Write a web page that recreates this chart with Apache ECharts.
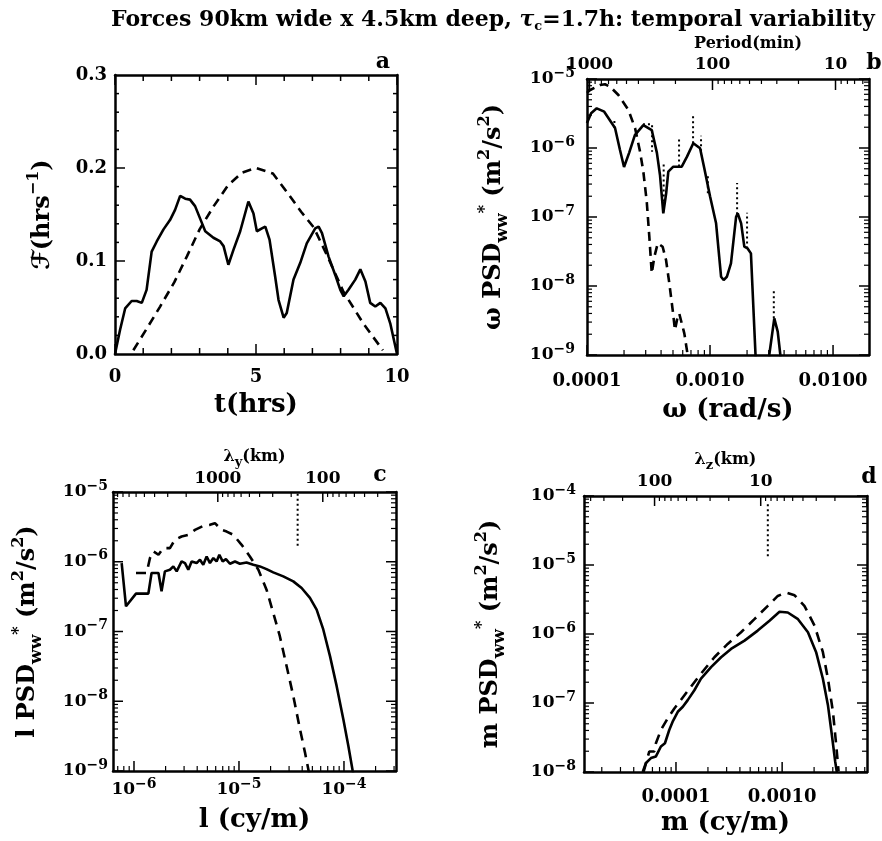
<!DOCTYPE html>
<html><head><meta charset="utf-8">
<script src="https://cdn.jsdelivr.net/npm/echarts@6/dist/echarts.min.js"></script>
<style>html,body{margin:0;padding:0;background:#fff}#wrap{position:relative;width:882px;height:841px}.pane{position:absolute;left:0;top:0;width:882px;height:841px}</style>
</head><body><div id="wrap"></div>
<script>
// ---------- Panel a : forcing time series ----------
const tA = [0,0.18,0.36,0.59,0.77,0.95,1.12,1.30,1.48,1.72,1.95,2.13,2.31,2.49,2.66,2.84,3.08,3.20,3.49,3.73,3.85,4.02,4.20,4.44,4.73,4.91,5.03,5.21,5.33,5.48,5.68,5.80,5.98,6.09,6.33,6.57,6.80,7.10,7.22,7.34,7.57,7.81,7.99,8.11,8.28,8.52,8.70,8.88,9.05,9.23,9.41,9.59,9.76,10];
const fA = [0,0.026,0.049,0.057,0.057,0.055,0.069,0.110,0.121,0.134,0.144,0.155,0.170,0.167,0.166,0.159,0.141,0.132,0.125,0.121,0.116,0.096,0.112,0.132,0.164,0.151,0.132,0.135,0.137,0.123,0.083,0.058,0.039,0.044,0.080,0.098,0.119,0.135,0.137,0.130,0.105,0.085,0.069,0.062,0.069,0.080,0.091,0.078,0.055,0.051,0.055,0.049,0.033,0];
const tAd = [0.65,1.1,1.6,2.1,2.55,3.0,3.5,4.0,4.5,5.0,5.6,6.1,6.6,7.05,7.55,8.1,8.8,9.5];
const fAd = [0.004,0.026,0.051,0.077,0.105,0.134,0.159,0.181,0.195,0.200,0.194,0.174,0.153,0.136,0.104,0.067,0.033,0.004];

// ---------- Panel b : frequency spectrum ----------
const wB = [1.0e-4,1.08e-4,1.2e-4,1.38e-4,1.69e-4,1.85e-4,2.0e-4,2.2e-4,2.45e-4,2.87e-4,3.36e-4,3.7e-4,3.92e-4,4.17e-4,4.4e-4,4.58e-4,5.03e-4,5.89e-4,6.5e-4,7.31e-4,8.3e-4,9.0e-4,1.0e-3,1.12e-3,1.23e-3,1.29e-3,1.37e-3,1.48e-3,1.63e-3,1.68e-3,1.79e-3,1.9e-3,2.02e-3,2.15e-3,2.34e-3,2.38e-3,2.98e-3,3.03e-3,3.33e-3,3.55e-3,3.73e-3,3.78e-3];
const pB = [2.3e-6,3.2e-6,3.76e-6,3.36e-6,1.95e-6,9.5e-7,5.3e-7,8.5e-7,1.54e-6,2.15e-6,1.82e-6,8.5e-7,4.06e-7,1.13e-7,2.2e-7,4.54e-7,5.36e-7,5.36e-7,7.5e-7,1.17e-6,9.9e-7,5.0e-7,2.0e-7,8.1e-8,1.36e-8,1.22e-8,1.36e-8,2.13e-8,1.01e-7,1.13e-7,8.1e-8,3.72e-8,3.5e-8,2.97e-8,1.06e-9,5e-10,5e-10,1.0e-9,3.4e-9,2.18e-9,1.0e-9,5e-10];
const wBd = [1.0e-4,1.06e-4,1.28e-4,1.4e-4,1.54e-4,1.8e-4,2.17e-4,2.46e-4,2.7e-4,2.87e-4,3.06e-4,3.21e-4,3.36e-4,3.53e-4,3.76e-4,4.12e-4,4.39e-4,4.67e-4,4.97e-4,5.19e-4,5.46e-4,5.62e-4,6.18e-4,6.58e-4,6.8e-4];
const pBd = [6.3e-6,6.93e-6,8.18e-6,8.4e-6,7.75e-6,5.86e-6,3.56e-6,1.93e-6,8.83e-7,4.54e-7,1.67e-7,5.18e-8,1.53e-8,2.66e-8,4.16e-8,3.7e-8,2.38e-8,1.09e-8,4.5e-9,2.3e-9,3.6e-9,4.0e-9,2.06e-9,1.0e-9,5e-10];
const wBdot = [[1.67e-4,1.67e-4],[2.85e-4,3.38e-4,3.38e-4],[4.2e-4,4.2e-4],[5.6e-4,5.6e-4],[7.28e-4,7.28e-4],[8.45e-4,8.45e-4],[9.6e-4,9.6e-4],[1.66e-3,1.66e-3],[2.0e-3,2.0e-3],[3.3e-3,3.3e-3]];
const pBdot = [[1.95e-6,2.6e-6],[2.2e-6,2.2e-6,8.8e-7],[1.2e-7,6.1e-7],[5.4e-7,1.44e-6],[1.17e-6,3.2e-6],[9e-7,1.5e-6],[2.2e-7,4.0e-7],[1.1e-7,3.1e-7],[3.5e-8,1.15e-7],[3.4e-9,9.3e-9]];

// ---------- Panel c : horizontal wavenumber spectrum ----------
const lC = [7.63e-7,8.39e-7,1.045e-6,1.37e-6,1.47e-6,1.71e-6,1.83e-6,1.97e-6,2.2e-6,2.37e-6,2.55e-6,2.84e-6,3.06e-6,3.29e-6,3.54e-6,3.95e-6,4.25e-6,4.57e-6,4.92e-6,5.29e-6,5.7e-6,6.12e-6,6.5e-6,6.99e-6,7.51e-6,8.2e-6,9.16e-6,1.02e-5,1.18e-5,1.37e-5,1.58e-5,1.83e-5,2.12e-5,2.64e-5,3.29e-5,3.95e-5,4.74e-5,5.49e-5,6.35e-5,7.36e-5,8.51e-5,9.86e-5,1.1e-4,1.21e-4,1.25e-4];
const pC = [9.57e-7,2.3e-7,3.49e-7,3.49e-7,6.89e-7,6.89e-7,3.77e-7,7.28e-7,7.69e-7,8.58e-7,7.28e-7,1.01e-6,9.57e-7,7.69e-7,1.01e-6,9.57e-7,1.07e-6,9.06e-7,1.19e-6,9.57e-7,1.13e-6,1.01e-6,1.26e-6,1.01e-6,1.09e-6,9.36e-7,1.01e-6,9.36e-7,9.77e-7,9.06e-7,8.58e-7,7.85e-7,7.05e-7,6.17e-7,5.23e-7,4.2e-7,3.03e-7,2.06e-7,1.07e-7,4.44e-8,1.66e-8,5.53e-9,2.3e-9,1.01e-9,8e-10];
const lCd = [1.045e-6,1.32e-6,1.42e-6,1.53e-6,1.71e-6,1.9e-6,2.2e-6,2.45e-6,2.84e-6,3.29e-6,3.81e-6,4.57e-6,5.29e-6,5.9e-6,6.84e-6,7.63e-6,8.83e-6,1.06e-5,1.27e-5,1.53e-5,1.83e-5,2.12e-5,2.45e-5,2.84e-5,3.29e-5,3.81e-5,4.25e-5,4.57e-5,4.74e-5];
const pCd = [6.89e-7,6.89e-7,1.13e-6,1.41e-6,1.26e-6,1.57e-6,1.57e-6,2.06e-6,2.3e-6,2.43e-6,2.86e-6,3.27e-6,3.38e-6,3.57e-6,2.86e-6,2.71e-6,2.43e-6,1.75e-6,1.19e-6,7.69e-7,3.98e-7,1.85e-7,8.57e-8,3.2e-8,1.19e-8,3.98e-9,1.85e-9,1.07e-9,8e-10];
const lCdot = [3.62e-5,3.62e-5];
const pCdot = [1.69e-6,1e-5];

// ---------- Panel d : vertical wavenumber spectrum ----------
const mD = [4.86e-5,5.21e-5,5.81e-5,6.47e-5,7.21e-5,7.87e-5,8.64e-5,9.3e-5,1.04e-4,1.16e-4,1.29e-4,1.49e-4,1.72e-4,2.14e-4,2.66e-4,3.3e-4,4.42e-4,5.89e-4,7.6e-4,9.45e-4,1.13e-3,1.41e-3,1.75e-3,2.09e-3,2.42e-3,2.7e-3,2.94e-3,3.16e-3,3.28e-3];
const pD = [1e-8,1.35e-8,1.59e-8,1.68e-8,2.34e-8,2.61e-8,4.06e-8,5.36e-8,7.46e-8,8.81e-8,1.1e-7,1.53e-7,2.25e-7,3.31e-7,4.61e-7,6.08e-7,8.02e-7,1.12e-6,1.56e-6,2.1e-6,2.05e-6,1.64e-6,1.06e-6,5.45e-7,2.25e-7,9.3e-8,3.44e-8,1.42e-8,9.7e-9];
const mDd = [4.95e-5,5.6e-5,6.25e-5,6.47e-5,7.21e-5,8.34e-5,9.65e-5,1.11e-4,1.34e-4,1.72e-4,2.3e-4,3.07e-4,4.1e-4,5.48e-4,7.33e-4,9.1e-4,1.09e-3,1.31e-3,1.62e-3,2.02e-3,2.42e-3,2.7e-3,3.01e-3,3.23e-3,3.4e-3];
const pDd = [1e-8,1.98e-8,1.98e-8,2.61e-8,4.06e-8,5.98e-8,8.34e-8,1.1e-7,1.62e-7,2.66e-7,4.61e-7,7.18e-7,1.06e-6,1.64e-6,2.56e-6,3.56e-6,3.98e-6,3.64e-6,2.56e-6,1.32e-6,5.45e-7,2.25e-7,7.46e-8,2.47e-8,1.02e-8];
const mDdot = [7.33e-4,7.33e-4];
const pDdot = [1.34e-5,8.3e-5];

// axis ranges and top-axis tick labels
const aX = [0, 10], aY = [0, 0.3];
const bX = [1e-4, 0.0196], cX = [6.31e-7, 3.13e-4], dX = [1.36e-5, 6.3e-3];
const bY = [1e-9, 1e-5], cY = [1e-9, 1e-5], dY = [1e-8, 1e-4];
const topB = [1000, 100, 10], topC = [1000, 100], topD = [100, 10];
const TWO_PI = 2 * Math.PI;

// ---------- helpers ----------
const SERIF = "'DejaVu Serif', 'DejaVu Sans', serif";
const L = Math.log10;
const zip = (xs, ys) => xs.map((x, i) => [x, ys[i]]);
const zipLX = (xs, ys) => xs.map((x, i) => [L(x), ys[i]]); // x drawn on a value axis in log10 units
const isPow10 = v => { const l = L(v); return Math.abs(l - Math.round(l)) < 1e-6; };
const expStr = e => '{b|10}{e|' + (e < 0 ? '\u2212' : '') + Math.abs(e) + '}';
const expFmt = v => isPow10(v) ? expStr(Math.round(L(v))) : '';
const majorsIn = (lo, hi) => { const r = []; for (let e = Math.ceil(L(lo) - 1e-9); e <= Math.floor(L(hi) + 1e-9); e++) r.push(Math.pow(10, e)); return r; };
const minorsIn = (lo, hi) => { const r = []; for (let e = Math.floor(L(lo)) - 1; e <= Math.ceil(L(hi)); e++) for (let k = 2; k <= 9; k++) { const v = k * Math.pow(10, e); if (v > lo * 1.0001 && v < hi * 0.9999) r.push(v); } return r; };
const txt = (size, extra) => Object.assign({ fontFamily: SERIF, fontWeight: 'bold', fontSize: size, color: '#000' }, extra || {});
const expRich = { b: txt(17, { lineHeight: 26 }), e: txt(14, { lineHeight: 14, verticalAlign: 'top' }) };
const nameRich = {
  n: txt(24, { lineHeight: 34 }),
  sub: txt(17, { lineHeight: 17, verticalAlign: 'bottom' }),
  sup: txt(16, { lineHeight: 16, verticalAlign: 'top' })
};
const lamRich = { t: txt(16, { lineHeight: 24 }), s: txt(13, { lineHeight: 13, verticalAlign: 'bottom' }) };
const psdName = p => '{n|' + p + ' PSD}{sub|ww}{sup|*}{n| (m}{sup|2}{n|/s}{sup|2}{n|)}';
const perOfW = w => TWO_PI / w / 60, wOfPer = p => TWO_PI / (p * 60);
const lamOfK = k => TWO_PI / k / 1000, kOfLam = lam => TWO_PI / (lam * 1000);

function ax(o) {
  const a = {
    type: o.type, gridIndex: 0, position: o.pos, min: o.min, max: o.max,
    axisLine: { show: true, onZero: false, lineStyle: { color: '#000', width: 2.5 } },
    axisTick: { show: false }, minorTick: { show: false },
    splitLine: { show: false },
    axisLabel: o.label ? Object.assign(txt(18, { margin: 8, rich: expRich }), o.label) : { show: false }
  };
  if (o.label && o.labelValues) a.axisLabel.customValues = o.labelValues;
  if (o.interval) a.interval = o.interval;
  if (o.name) {
    a.name = o.name; a.nameLocation = 'middle'; a.nameGap = o.nameGap;
    if (o.nameRotate) a.nameRotate = o.nameRotate;
    a.nameTextStyle = Object.assign(txt(26), o.nameStyle || {});
  }
  return a;
}
// Tick marks drawn inward through the axes' own coordinate mapping (api.coord)
function tickSeries(xTicks, yTicks, xRef, yRef) {
  return {
    type: 'custom', xAxisIndex: 0, yAxisIndex: 0, data: [[xRef, yRef]], silent: true, clip: false, z: 10,
    renderItem: (params, api) => {
      const cs = params.coordSys, kids = [];
      const seg = (x1, y1, x2, y2, w) => kids.push({ type: 'line', shape: { x1, y1, x2, y2 }, style: { stroke: '#000', lineWidth: w } });
      const yb = cs.y + cs.height, xr = cs.x + cs.width;
      xTicks.forEach(t => {
        const px = api.coord([t.v, yRef])[0];
        if (t.b) seg(px, yb, px, yb - t.len, t.w);
        if (t.t) seg(px, cs.y, px, cs.y + t.len, t.w);
      });
      yTicks.forEach(t => {
        const py = api.coord([xRef, t.v])[1];
        if (t.l) seg(cs.x, py, cs.x + t.len, py, t.w);
        if (t.r) seg(xr, py, xr - t.len, py, t.w);
      });
      return { type: 'group', children: kids };
    }
  };
}
const tk = (vals, len, sides, w) => vals.map(v => Object.assign({ v, len, w: w || 1.5 }, sides));
// ticks for a log-unit x axis: bottom decades + top (converted) decades, and log y axis on both sides
function logTicks(xExt, yExt, inv, conv, topLen) {
  const tLo = conv(xExt[1]), tHi = conv(xExt[0]);
  const toX = u => L(inv(u));
  const xt = [].concat(
    tk(majorsIn(xExt[0], xExt[1]).map(L), 10, { b: 1 }),
    tk(minorsIn(xExt[0], xExt[1]).map(L), 5, { b: 1 }, 1.2),
    tk(majorsIn(tLo, tHi).map(toX), topLen || 10, { t: 1 }),
    tk(minorsIn(tLo, tHi).map(toX), 5, { t: 1 }, 1.2)
  );
  const yt = [].concat(
    tk(majorsIn(yExt[0], yExt[1]), 10, { l: 1, r: 1 }),
    tk(minorsIn(yExt[0], yExt[1]), 5, { l: 1, r: 1 }, 1.2)
  );
  return tickSeries(xt, yt, L(xExt[0]), yExt[0]);
}
function logXAxes(ext, bottom, top) {
  const lo = L(ext[0]), hi = L(ext[1]);
  const toX = u => L(top.inv(u));
  return [
    ax({ type: 'value', pos: 'bottom', min: lo, max: hi,
         label: { formatter: bottom.fmt, margin: bottom.margin }, labelValues: majorsIn(ext[0], ext[1]).map(L),
         name: bottom.name, nameGap: bottom.nameGap }),
    ax({ type: 'value', pos: 'top', min: lo, max: hi,
         label: { formatter: v => String(Math.round(top.conv(Math.pow(10, v)))), fontSize: 17, margin: top.margin },
         labelValues: top.labels.map(toX), name: top.name, nameGap: top.nameGap, nameStyle: top.nameStyle })
  ];
}
function logYAxes(ext, margin, name, nameGap) {
  return [
    ax({ type: 'log', pos: 'left', min: ext[0], max: ext[1], label: { formatter: expFmt, margin },
         name, nameRotate: 90, nameGap, nameStyle: { rich: nameRich } }),
    ax({ type: 'log', pos: 'right', min: ext[0], max: ext[1] })
  ];
}
const line = (data, type, width) => ({
  type: 'line', data, symbol: 'none', showSymbol: false,
  lineStyle: { color: '#000', width: width || 2.6, type: type || 'solid' }
});
function pane() {
  const d = document.createElement('div'); d.className = 'pane';
  document.getElementById('wrap').appendChild(d);
  return echarts.init(d, null, { width: 882, height: 841 });
}
const letter = (t, x, y) => ({ type: 'text', x, y, style: { text: t, font: "bold 22px 'DejaVu Serif'", fill: '#000', textAlign: 'center', textVerticalAlign: 'middle' } });
const decLabel = v => Math.pow(10, v).toFixed(4);
const powLabel = v => expStr(Math.round(v));

// ===== panel a (+ title, panel letters) =====
const aXt = [], aYt = [];
for (let i = 0; i <= 10; i++) aXt.push({ v: i, len: i % 5 === 0 ? 10 : 6, w: 1.5, b: 1, t: 1 });
for (let i = 1; i < 15; i++) aYt.push({ v: i * 0.02, len: i % 5 === 0 ? 10 : 4, w: 1.5, l: 1, r: 1 });
pane().setOption({
  animation: false,
  title: {
    text: '{n|Forces 90km wide x 4.5km deep, }{g|τ}{s|c}{n|=1.7h: temporal variability}',
    left: 106, top: 2,
    textStyle: { rich: { n: txt(22, { lineHeight: 26 }), g: txt(22, { lineHeight: 26, fontStyle: 'italic' }), s: txt(13, { lineHeight: 13, verticalAlign: 'bottom' }) } }
  },
  grid: { left: 115, top: 75, width: 282, height: 279 },
  xAxis: [
    ax({ type: 'value', pos: 'bottom', min: aX[0], max: aX[1], interval: 5,
         label: { formatter: v => String(v), margin: 14 }, name: 't(hrs)', nameGap: 38 }),
    ax({ type: 'value', pos: 'top', min: aX[0], max: aX[1], interval: 5 })
  ],
  yAxis: [
    ax({ type: 'value', pos: 'left', min: aY[0], max: aY[1], interval: 0.1,
         label: { formatter: v => v.toFixed(1) },
         name: '{n|ℱ(hrs}{sup|−1}{n|)}', nameRotate: 90, nameGap: 55, nameStyle: { rich: nameRich } }),
    ax({ type: 'value', pos: 'right', min: aY[0], max: aY[1], interval: 0.1 })
  ],
  series: [line(zip(tA, fA)), line(zip(tAd, fAd), [9, 6]), tickSeries(aXt, aYt, aX[0], aY[0])],
  graphic: [letter('a', 383, 62), letter('b', 874, 63), letter('c', 380, 475), letter('d', 869, 477)]
});

// ===== panel b =====
pane().setOption({
  animation: false,
  grid: { left: 587, top: 79, width: 282, height: 276 },
  xAxis: logXAxes(bX, { fmt: decLabel, margin: 17, name: 'ω (rad/s)', nameGap: 42 },
    { conv: perOfW, inv: wOfPer, labels: topB, margin: 6, name: 'Period(min)', nameGap: 27,
      nameStyle: { fontSize: 16, padding: [0, 0, 0, 40] } }),
  yAxis: logYAxes(bY, 12, psdName('ω'), 76),
  series: [line(zipLX(wB, pB)), line(zipLX(wBd, pBd), [9, 6]),
    ...wBdot.map((ws, i) => line(zipLX(ws, pBdot[i]), [2, 3], 2)),
    logTicks(bX, bY, wOfPer, perOfW, 11)]
});

// ===== panel c =====
pane().setOption({
  animation: false,
  grid: { left: 113, top: 492, width: 283, height: 279 },
  xAxis: logXAxes(cX, { fmt: powLabel, margin: 6, name: 'l (cy/m)', nameGap: 36 },
    { conv: lamOfK, inv: kOfLam, labels: topC, margin: 5, name: '{t|λ}{s|y}{t|(km)}', nameGap: 22,
      nameStyle: { rich: lamRich } }),
  yAxis: logYAxes(cY, 5, psdName('l'), 68),
  series: [line(zipLX(lC, pC)), line(zipLX(lCd, pCd), [10, 7]), line(zipLX(lCdot, pCdot), [2, 3], 2),
    logTicks(cX, cY, kOfLam, lamOfK)]
});

// ===== panel d =====
pane().setOption({
  animation: false,
  grid: { left: 584, top: 496, width: 283, height: 276 },
  xAxis: logXAxes(dX, { fmt: decLabel, margin: 16, name: 'm (cy/m)', nameGap: 38 },
    { conv: lamOfK, inv: kOfLam, labels: topD, margin: 6, name: '{t|λ}{s|z}{t|(km)}', nameGap: 24,
      nameStyle: { rich: lamRich } }),
  yAxis: logYAxes(dY, 8, psdName('m'), 76),
  series: [line(zipLX(mD, pD)), line(zipLX(mDd, pDd), [10, 7]), line(zipLX(mDdot, pDdot), [2, 3], 2),
    logTicks(dX, dY, kOfLam, lamOfK)]
});
</script></body></html>
